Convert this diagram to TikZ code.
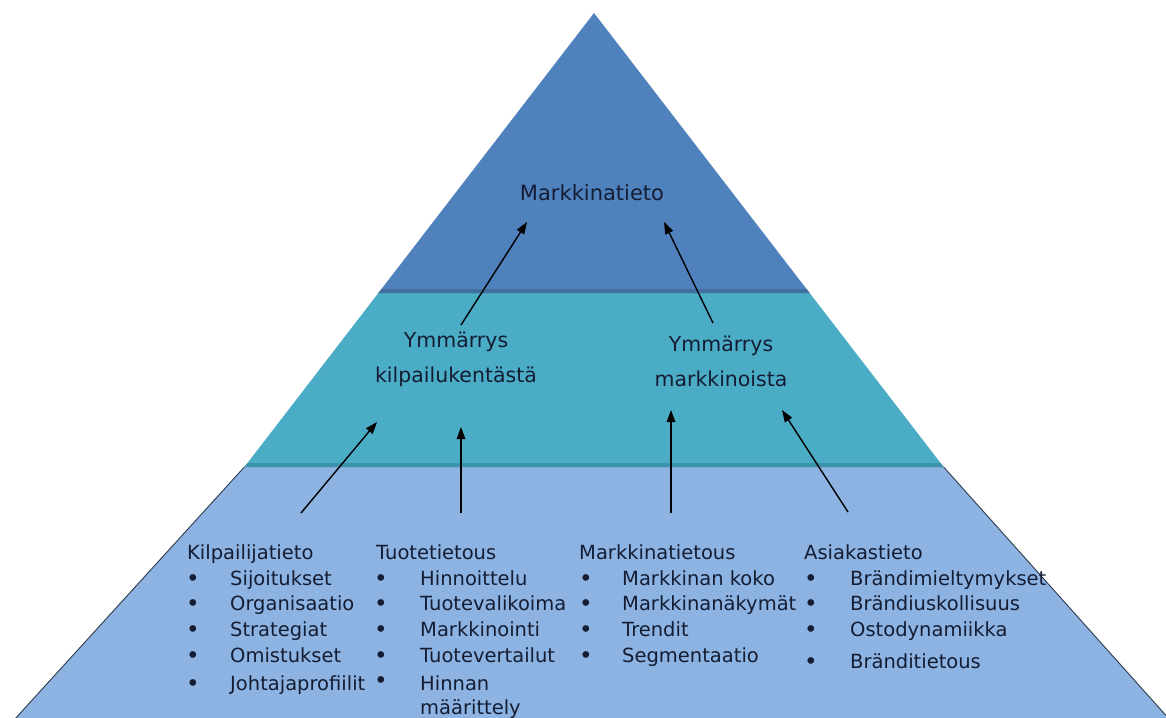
\documentclass[tikz,border=0pt]{standalone}
\usepackage{fontspec}
\setmainfont{DejaVu Sans}
\usetikzlibrary{arrows.meta}
\definecolor{topblue}{HTML}{4F81BD}
\definecolor{topdark}{HTML}{41709F}
\definecolor{midteal}{HTML}{4BACC6}
\definecolor{middark}{HTML}{3E93AC}
\definecolor{botblue}{HTML}{8DB3E2}
\definecolor{edge}{HTML}{2E3A4C}
\definecolor{txt}{HTML}{141D33}
\tikzset{
  toplbl/.style={text=txt, inner sep=0pt, align=center, font=\fontsize{21}{35}\selectfont},
  midlbl/.style={text=txt, inner sep=0pt, align=center, font=\fontsize{20.5}{35}\selectfont},
  item/.style={text=txt, inner sep=0pt, anchor=base west, font=\fontsize{19.5}{23}\selectfont},
  bul/.style={text=txt, inner sep=0pt, anchor=base, font=\fontsize{23}{23}\selectfont},
  arr/.style={line width=1.4pt, black, -{Triangle[length=12pt,width=8.5pt]}}
}
\begin{document}
\begin{tikzpicture}[x=1pt,y=-1pt]
\useasboundingbox (0,0) rectangle (1166,717);
\fill[white] (0,0) rectangle (1166,717);
\clip (0,0) rectangle (1166,717);
% bands
\fill[botblue] (244.4,467) -- (943.6,467) -- (1170,720) -- (14,720) -- cycle;
\draw[edge, line width=0.9pt] (244.4,467) -- (14,720);
\draw[edge, line width=0.9pt] (943.6,467) -- (1170,720);
\fill[midteal] (378.4,293) -- (809.6,293) -- (943.6,467) -- (244.4,467) -- cycle;
\fill[middark] (247.5,463) -- (940.5,463) -- (943.6,467) -- (244.4,467) -- cycle;
\fill[topblue] (594,13) -- (809.6,293) -- (378.4,293) -- cycle;
\fill[topdark] (381.5,289) -- (806.5,289) -- (809.6,293) -- (378.4,293) -- cycle;
% labels
\node[toplbl] (mt) at (592,193) {Markkinatieto};
\node[midlbl] (uk) at (456,359) {Ymmärrys\\kilpailukentästä};
\node[midlbl] (um) at (721,361) {Ymmärrys\\markkinoista};
% column 1
\node[item] (h1) at (187,559) {Kilpailijatieto};
\node[bul] (b11) at (193,586) {•};
\node[item] (i11) at (230,585) {Sijoitukset};
\node[bul] (b12) at (193,611) {•};
\node[item] (i12) at (230,610) {Organisaatio};
\node[bul] (b13) at (193,637) {•};
\node[item] (i13) at (230,636) {Strategiat};
\node[bul] (b14) at (193,663) {•};
\node[item] (i14) at (230,662) {Omistukset};
\node[bul] (b15) at (193,691) {•};
\node[item] (i15) at (230,690) {Johtajaprofiilit};
% column 2
\node[item] (h2) at (376,559) {Tuotetietous};
\node[bul] (b21) at (381,586) {•};
\node[item] (i21) at (420,585) {Hinnoittelu};
\node[bul] (b22) at (381,611) {•};
\node[item] (i22) at (420,610) {Tuotevalikoima};
\node[bul] (b23) at (381,637) {•};
\node[item] (i23) at (420,636) {Markkinointi};
\node[bul] (b24) at (381,663) {•};
\node[item] (i24) at (420,662) {Tuotevertailut};
\node[bul] (b25) at (381,688) {•};
\node[item] (i25) at (420,690) {Hinnan};
\node[item] (i26) at (420,714) {määrittely};
% column 3
\node[item] (h3) at (579,559) {Markkinatietous};
\node[bul] (b31) at (586,586) {•};
\node[item] (i31) at (622,585) {Markkinan koko};
\node[bul] (b32) at (586,611) {•};
\node[item] (i32) at (622,610) {Markkinanäkymät};
\node[bul] (b33) at (586,637) {•};
\node[item] (i33) at (622,636) {Trendit};
\node[bul] (b34) at (586,663) {•};
\node[item] (i34) at (622,662) {Segmentaatio};
% column 4
\node[item] (h4) at (804,559) {Asiakastieto};
\node[bul] (b41) at (811,586) {•};
\node[item] (i41) at (850,585) {Brändimieltymykset};
\node[bul] (b42) at (811,611) {•};
\node[item] (i42) at (850,610) {Brändiuskollisuus};
\node[bul] (b43) at (811,637) {•};
\node[item] (i43) at (850,636) {Ostodynamiikka};
\node[bul] (b44) at (811,669) {•};
\node[item] (i44) at (850,668) {Bränditietous};
% arrow ends
\coordinate (a1s) at (461,325);
\coordinate (a1e) at (527,222);
\coordinate (a2s) at (713,323);
\coordinate (a2e) at (664,222);
\coordinate (a3s) at (301,513);
\coordinate (a3e) at (377,422);
\coordinate (a4s) at (461,513);
\coordinate (a4e) at (461,427);
\coordinate (a5s) at (671,513);
\coordinate (a5e) at (671,410);
\coordinate (a6s) at (848,512);
\coordinate (a6e) at (782,410);
\draw[arr] (a1s) -- (a1e);
\draw[arr] (a2s) -- (a2e);
\draw[arr] (a3s) -- (a3e);
\draw[arr] (a4s) -- (a4e);
\draw[arr] (a5s) -- (a5e);
\draw[arr] (a6s) -- (a6e);
\end{tikzpicture}
\end{document}
